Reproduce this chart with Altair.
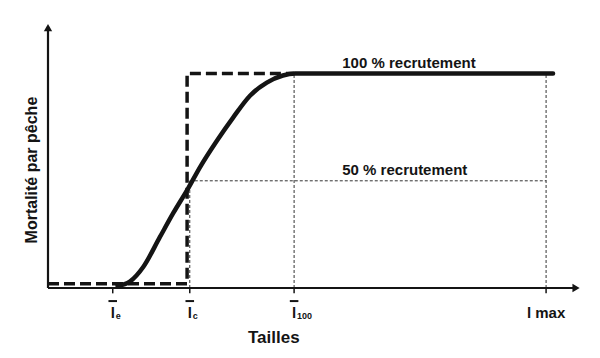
import altair as alt
import pandas as pd

# ---- data (length units on x, relative mortality on y) ----
tick_pos = [12.1, 26.5, 46.0, 93.1]
tick_sub = ["e", "c", "100", ""]
tick_main = ["l", "l", "l", "l max"]

curve_x = [13.0, 15.3, 17.8, 20.9, 23.4, 26.2, 28.4, 31.6, 34.6, 37.8, 40.9, 43.9, 46.2, 94.4]
curve_y = [0.01, 0.03, 0.098, 0.237, 0.349, 0.465, 0.563, 0.688, 0.795, 0.898, 0.958, 0.991, 1.0, 1.0]

step_x = [0.0, 26.0, 26.0, 46.0]
step_y = [0.02, 0.02, 1.0, 1.0]

level_full = 1.0
level_half = 0.5
x_max = 100.0
y_max = 1.25

INK = "#141414"
FONT = "Liberation Sans"


def X(f):
    return alt.X(f, scale=alt.Scale(domain=[0, x_max], nice=False, zero=False), axis=None)


def Y(f):
    return alt.Y(f, scale=alt.Scale(domain=[0, y_max], nice=False, zero=False), axis=None)


# axes lines
axes_df = pd.DataFrame({
    "x": [0.0, 0.0], "x2": [0.0, x_max - 1.0],
    "y": [0.0, 0.0], "y2": [y_max - 0.03, 0.0],
})
axes = alt.Chart(axes_df).mark_rule(color=INK, strokeWidth=2.2).encode(
    x=X("x:Q"), x2="x2:Q", y=Y("y:Q"), y2="y2:Q")

arrow_up = alt.Chart(pd.DataFrame({"x": [0.0], "y": [y_max - 0.035]})).mark_point(
    shape="triangle-up", size=70, filled=True, color=INK, opacity=1).encode(
    x=X("x:Q"), y=Y("y:Q"))
arrow_right = alt.Chart(pd.DataFrame({"x": [x_max - 1.3], "y": [0.0]})).mark_point(
    shape="triangle-right", size=70, filled=True, color=INK, opacity=1).encode(
    x=X("x:Q"), y=Y("y:Q"))

ticks_df = pd.DataFrame({"x": tick_pos, "main": tick_main,
                         "y": [0.0] * 4, "y2": [-0.025] * 4})
ticks = alt.Chart(ticks_df).mark_rule(color=INK, strokeWidth=1.5).encode(
    x=X("x:Q"), y=Y("y:Q"), y2="y2:Q")

bar_df = pd.DataFrame({
    "xl": [p - 0.8 for p in tick_pos[:3]],
    "xr": [p + 0.8 for p in tick_pos[:3]],
    "yb": [-0.061] * 3,
})
overbars = alt.Chart(bar_df).mark_rule(color=INK, strokeWidth=2).encode(
    x=X("xl:Q"), x2="xr:Q", y=Y("yb:Q"))

main_lab = alt.Chart(ticks_df).mark_text(
    font=FONT, fontWeight="bold", fontSize=15, color=INK, baseline="alphabetic",
    dy=30).encode(x=X("x:Q"), y=Y("y:Q"), text="main:N")

sub_df = pd.DataFrame({"x": tick_pos[:3], "y": [0.0] * 3, "sub": tick_sub[:3]})
sub_lab = alt.Chart(sub_df).mark_text(
    font=FONT, fontWeight="bold", fontSize=9, color=INK, align="left",
    baseline="alphabetic", dx=3, dy=31).encode(
    x=X("x:Q"), y=Y("y:Q"), text="sub:N")

# dotted guides
guides_df = pd.DataFrame({
    "x": [tick_pos[1], tick_pos[2], tick_pos[3], tick_pos[1]],
    "x2": [tick_pos[1], tick_pos[2], tick_pos[3], tick_pos[3]],
    "y": [0.0, 0.0, 0.0, level_half],
    "y2": [level_half, level_full, level_full, level_half],
})
guides = alt.Chart(guides_df).mark_rule(color="#333333", strokeWidth=1, strokeDash=[3, 2]).encode(
    x=X("x:Q"), x2="x2:Q", y=Y("y:Q"), y2="y2:Q")

step_df = pd.DataFrame({"x": step_x, "y": step_y, "o": list(range(len(step_x)))})
step = alt.Chart(step_df).mark_line(color=INK, strokeWidth=3.5, strokeDash=[11, 5]).encode(
    x=X("x:Q"), y=Y("y:Q"), order="o:Q")

curve_df = pd.DataFrame({"x": curve_x, "y": curve_y})
curve = alt.Chart(curve_df).mark_line(color=INK, strokeWidth=4.5, interpolate="monotone",
                                      strokeCap="round").encode(
    x=X("x:Q"), y=Y("y:Q"))

labels_df = pd.DataFrame({
    "x": [55.0, 55.0], "y": [level_full, level_half],
    "t": ["100 % recrutement", "50 % recrutement"],
})
level_labels = alt.Chart(labels_df).mark_text(
    font=FONT, fontWeight="bold", fontSize=15, color=INK, align="left",
    baseline="alphabetic", dy=-6).encode(
    x=X("x:Q"), y=Y("y:Q"), text="t:N")

xtitle = alt.Chart(pd.DataFrame({"x": [42.2], "y": [0.0], "t": ["Tailles"]})).mark_text(
    font=FONT, fontWeight="bold", fontSize=17, color=INK, baseline="alphabetic", dy=55).encode(
    x=X("x:Q"), y=Y("y:Q"), text="t:N")

ytitle = alt.Chart(pd.DataFrame({"x": [0.0], "y": [0.55], "t": ["Mortalité par pêche"]})).mark_text(
    font=FONT, fontWeight="bold", fontSize=16, color=INK, angle=270, baseline="alphabetic",
    dy=-11).encode(
    x=X("x:Q"), y=Y("y:Q"), text="t:N")

chart = alt.layer(
    guides, axes, arrow_up, arrow_right, ticks, overbars, main_lab, sub_lab,
    step, curve, level_labels, xtitle, ytitle,
).properties(
    width=535, height=268,
    autosize=alt.AutoSizeParams(type="none"),
    padding={"left": 48, "top": 20, "right": 17, "bottom": 70},
    background="white",
).configure_view(strokeWidth=0)

chart.save("out.html", embed_options={"renderer": "svg", "actions": False})
